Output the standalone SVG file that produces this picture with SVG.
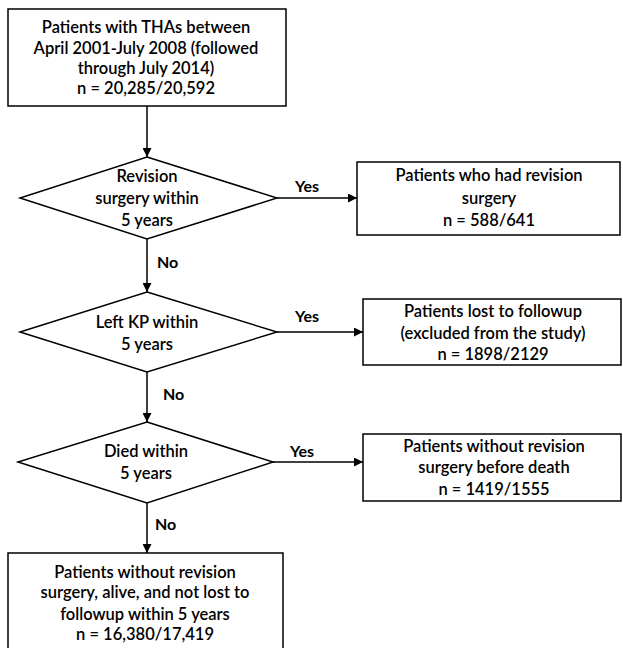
<svg xmlns="http://www.w3.org/2000/svg" width="623" height="648" viewBox="0 0 623 648">
<defs>
<marker id="arr" viewBox="0 0 10 10" refX="10" refY="5" markerWidth="9" markerHeight="9" markerUnits="userSpaceOnUse" orient="auto">
<path d="M0,0 L10,5 L0,10 Z" fill="#000"/>
</marker>
<style>
.box{fill:#fff;stroke:#000;stroke-width:1.5}
.t{font-family:Lato,"Liberation Sans",sans-serif;font-size:16.5px;font-weight:600;fill:#000;text-anchor:middle}
.lbl{font-family:Lato,"Liberation Sans",sans-serif;font-size:16px;font-weight:bold;fill:#000}
.c{stroke:#000;stroke-width:1.5;fill:none;marker-end:url(#arr)}
</style>
</defs>
<rect width="623" height="648" fill="#fff"/>
<g id="connectors">
<line class="c" x1="147" y1="106" x2="147" y2="157"/>
<line class="c" x1="147" y1="239" x2="147" y2="292"/>
<line class="c" x1="147" y1="372" x2="147" y2="422"/>
<line class="c" x1="147" y1="503" x2="147" y2="553"/>
<line class="c" x1="277" y1="198" x2="357" y2="198"/>
<line class="c" x1="277" y1="332" x2="363" y2="332"/>
<line class="c" x1="273" y1="462" x2="363" y2="462"/>
<text class="lbl" x="295" y="192">Yes</text>
<text class="lbl" x="295" y="322">Yes</text>
<text class="lbl" x="290" y="457">Yes</text>
<text class="lbl" x="157" y="268">No</text>
<text class="lbl" x="163" y="400">No</text>
<text class="lbl" x="155" y="530">No</text>
</g>
<g id="start">
<rect class="box" x="8" y="9" width="278" height="97"/>
<text class="t" x="146" y="33">Patients with THAs between</text>
<text class="t" x="146" y="54">April 2001-July 2008 (followed</text>
<text class="t" x="146" y="74">through July 2014)</text>
<text class="t" x="146" y="94">n = 20,285/20,592</text>
</g>
<g id="d1">
<polygon class="box" points="147,157 277,198 147,239 20,198"/>
<text class="t" x="147" y="182">Revision</text>
<text class="t" x="147" y="204">surgery within</text>
<text class="t" x="147" y="226">5 years</text>
</g>
<g id="b1">
<rect class="box" x="357" y="162" width="263" height="73"/>
<text class="t" x="489" y="181">Patients who had revision</text>
<text class="t" x="489" y="204">surgery</text>
<text class="t" x="489" y="226">n = 588/641</text>
</g>
<g id="d2">
<polygon class="box" points="147,292 277,332 147,372 20,332"/>
<text class="t" x="147" y="328">Left KP within</text>
<text class="t" x="147" y="350">5 years</text>
</g>
<g id="b2">
<rect class="box" x="363" y="299" width="258" height="66"/>
<text class="t" x="493" y="317">Patients lost to followup</text>
<text class="t" x="493" y="339">(excluded from the study)</text>
<text class="t" x="493" y="360">n = 1898/2129</text>
</g>
<g id="d3">
<polygon class="box" points="147,422 273,462 147,503 18,462"/>
<text class="t" x="146" y="457">Died within</text>
<text class="t" x="146" y="479">5 years</text>
</g>
<g id="b3">
<rect class="box" x="363" y="434" width="258" height="67"/>
<text class="t" x="494" y="452">Patients without revision</text>
<text class="t" x="494" y="473">surgery before death</text>
<text class="t" x="494" y="495">n = 1419/1555</text>
</g>
<g id="end">
<rect class="box" x="8" y="553" width="275" height="110"/>
<text class="t" x="145" y="578">Patients without revision</text>
<text class="t" x="145" y="598">surgery, alive, and not lost to</text>
<text class="t" x="145" y="620">followup within 5 years</text>
<text class="t" x="145" y="640">n = 16,380/17,419</text>
</g>
</svg>
